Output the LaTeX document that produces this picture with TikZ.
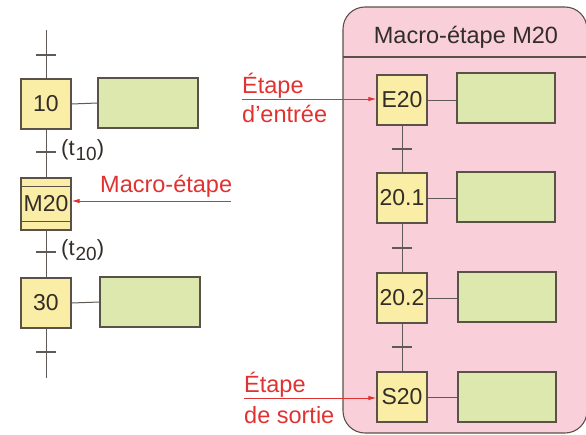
\documentclass[tikz,border=0pt]{standalone}
\usepackage{fontspec}
\setmainfont{Liberation Sans}
\usetikzlibrary{arrows.meta}
\definecolor{stepyellow}{RGB}{250,237,165}
\definecolor{actgreen}{RGB}{221,232,175}
\definecolor{macropink}{RGB}{249,208,218}
\definecolor{linegray}{RGB}{95,90,85}
\definecolor{boxgray}{RGB}{90,82,72}
\definecolor{labelred}{RGB}{225,50,50}
\definecolor{inktext}{RGB}{50,45,40}
\newcommand{\sizetxt}{\fontsize{23.5}{28}\selectfont}
\newcommand{\sizestep}{\fontsize{23}{27}\selectfont}
\newcommand{\tsub}[1]{(t\kern1pt\raisebox{-5pt}{\fontsize{19}{19}\selectfont #1})}
\begin{document}
\begin{tikzpicture}[x=1pt,y=-1pt,
  stepbox/.style={draw=boxgray,line width=1.1pt,fill=stepyellow,minimum width=50pt,minimum height=50pt,inner sep=0pt,font=\sizestep,text=inktext},
  actbox/.style={draw=boxgray,line width=1.1pt,fill=actgreen,minimum width=100pt,minimum height=50pt,inner sep=0pt},
  link/.style={draw=linegray,line width=1pt},
  tickmark/.style={draw=linegray,line width=1.2pt},
  redarrow/.style={draw=labelred,line width=1pt,-{Latex[length=8pt,width=4.5pt]}},
  redtxt/.style={text=labelred,font=\sizetxt,inner sep=0pt,anchor=base west},
  trans/.style={font=\fontsize{22}{26}\selectfont,text=inktext,inner sep=0pt,anchor=west}]
\useasboundingbox (0,0) rectangle (586,434);
% ---------- macro-step enclosure ----------
\begin{scope}
\clip (0,0) rectangle (586,434);
\draw[draw=boxgray,line width=1.1pt,fill=macropink,rounded corners=22pt] (343,7) rectangle (587,433);
\end{scope}
\coordinate (hl) at (343,57);
\coordinate (hr) at (586,57);
\draw[draw=boxgray,line width=1.1pt] (hl) -- (hr);
\node[font=\sizetxt,text=inktext,inner sep=0pt,anchor=base] (title) at (466,43) {Macro-étape M20};
% ---------- left chart ----------
\coordinate (ltop) at (46,30);
\coordinate (lbot) at (46,378);
\node[stepbox] (s10) at (46,104) {10};
\node[stepbox,minimum height=52pt] (m20) at (46,204) {M20};
\node[stepbox] (s30) at (46,303) {30};
\node[actbox] (a10) at (148,103) {};
\node[actbox] (a30) at (150,302) {};
\draw[link] (ltop) -- (s10.north);
\draw[link] (s10.south) -- (m20.north);
\draw[link] (m20.south) -- (s30.north);
\draw[link] (s30.south) -- (lbot);
\draw[link] (s10.east) -- (a10.west);
\draw[link] (s30.east) -- (a30.west);
\draw[boxgray,line width=1.1pt] ([yshift=-9pt]m20.north west) -- ([yshift=-9pt]m20.north east);
\draw[boxgray,line width=1.1pt] ([yshift=9pt]m20.south west) -- ([yshift=9pt]m20.south east);
\coordinate (k1) at (46,55);
\coordinate (k2) at (46,152);
\coordinate (k3) at (46,252);
\coordinate (k4) at (46,352);
\foreach \k in {k1,k2,k3,k4}{\draw[tickmark] ([xshift=-10pt]\k) -- ([xshift=10pt]\k);}
\node[trans] (t10) at (61,150) {\tsub{10}};
\node[trans] (t20) at (61,250) {\tsub{20}};
% macro-step label
\coordinate (mstart) at (231,201);
\draw[redarrow] (mstart) -- (m20.east |- mstart);
\node[redtxt] (mlab) at (100,192) {Macro-étape};
% ---------- right chart ----------
\node[stepbox] (e20) at (402,100) {E20};
\node[stepbox] (s201) at (402,198) {20.1};
\node[stepbox] (s202) at (402,298) {20.2};
\node[stepbox] (s20) at (402,397) {S20};
\node[actbox,minimum width=98pt] (ae) at (506,98) {};
\node[actbox,minimum width=98pt] (a1) at (506,197) {};
\node[actbox,minimum width=98pt] (a2) at (507,297) {};
\node[actbox,minimum width=98pt] (as) at (507,397) {};
\draw[link] (e20.south) -- (s201.north);
\draw[link] (s201.south) -- (s202.north);
\draw[link] (s202.south) -- (s20.north);
\draw[link] (e20.east) -- (ae.west |- e20.east);
\draw[link] (s201.east) -- (a1.west |- s201.east);
\draw[link] (s202.east) -- (a2.west |- s202.east);
\draw[link] (s20.east) -- (as.west |- s20.east);
\coordinate (r1) at (402,149);
\coordinate (r2) at (402,248);
\coordinate (r3) at (402,347);
\foreach \k in {r1,r2,r3}{\draw[tickmark] ([xshift=-10pt]\k) -- ([xshift=10pt]\k);}
% entry / exit labels
\coordinate (estart) at (242,99);
\draw[redarrow] (estart) -- (e20.west |- estart);
\node[redtxt] (el1) at (242,93) {Étape};
\node[redtxt] (el2) at (242,122) {d’entrée};
\coordinate (sstart) at (244,398);
\draw[redarrow] (sstart) -- (s20.west |- sstart);
\node[redtxt] (sl1) at (244,392) {Étape};
\node[redtxt] (sl2) at (244,423) {de sortie};
\end{tikzpicture}
\end{document}
